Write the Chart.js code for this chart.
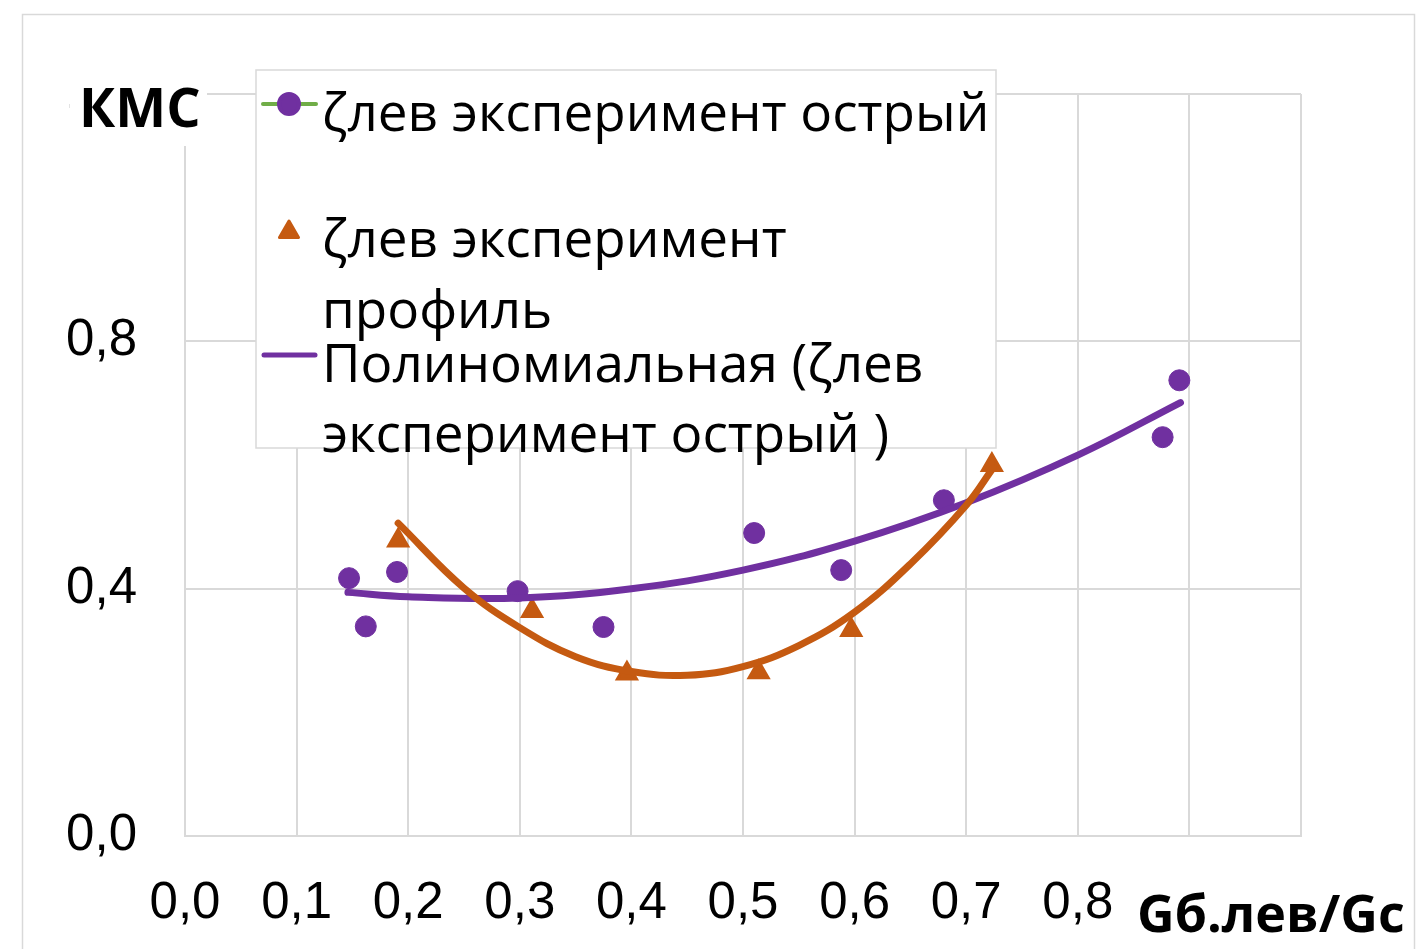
<!DOCTYPE html>
<html>
<head>
<meta charset="utf-8">
<script src="https://cdn.jsdelivr.net/npm/chart.js@4.4.1/dist/chart.umd.min.js"></script>
<style>
  html, body { margin: 0; padding: 0; background: #fff; }
  canvas { display: block; }
</style>
</head>
<body>
<canvas id="kms" width="1422" height="949"></canvas>
<script>
// measured points, sharp inlet
const sharpX = [0.147, 0.162, 0.190, 0.298, 0.375, 0.510, 0.588, 0.680, 0.876, 0.891];
const sharpY = [0.417, 0.339, 0.427, 0.396, 0.338, 0.490, 0.430, 0.543, 0.645, 0.737];
// measured points, profiled inlet
const profX = [0.191, 0.311, 0.396, 0.514, 0.597, 0.723];
const profY = [0.478, 0.364, 0.263, 0.265, 0.333, 0.600];
// trend curves as they appear on the picture
const sharpTrendX = [0.146, 0.2, 0.3, 0.4, 0.5, 0.6, 0.7, 0.8, 0.892];
const sharpTrendY = [0.394, 0.387, 0.385, 0.400, 0.430, 0.477, 0.539, 0.616, 0.701];
const profTrendX = [0.191, 0.25, 0.3, 0.35, 0.4, 0.45, 0.5, 0.55, 0.6, 0.65, 0.7, 0.724];
const profTrendY = [0.506, 0.401, 0.337, 0.290, 0.266, 0.260, 0.274, 0.308, 0.362, 0.440, 0.535, 0.595];

const xTickLabels = ['0,0', '0,1', '0,2', '0,3', '0,4', '0,5', '0,6', '0,7', '0,8', '0,9', '1,0'];
const yTickLabels = ['0,0', '0,4', '0,8', '1,2'];
const seriesNames = ['ζлев эксперимент острый', 'ζлев эксперимент профиль',
  'Полиномиальная (ζлев эксперимент острый )', 'Полиномиальная (ζлев эксперимент профиль)'];
const xTitle = 'Gб.лев/Gc';
const yTitle = 'КМС';

const pts = (xs, ys) => xs.map((x, i) => ({x: x, y: ys[i]}));

const PURPLE = '#7030a0';
const ORANGE = '#c55a11';
const GREEN = '#70ad47';
const GRID = '#d9d9d9';

const decor = {
  id: 'decor',
  beforeDraw(chart) {
    const ctx = chart.ctx;
    ctx.save();
    ctx.fillStyle = '#fff';
    ctx.fillRect(0, 0, chart.width, chart.height);
    ctx.strokeStyle = GRID;
    ctx.lineWidth = 1.5;
    ctx.strokeRect(22.5, 14.5, 1392, 960);
    ctx.restore();
  },
  afterDraw(chart) {
    const ctx = chart.ctx;
    const ds = chart.data.datasets;
    const draw = Chart.helpers.drawPoint;
    ctx.save();

    // legend box
    ctx.fillStyle = '#fff';
    ctx.fillRect(256, 70, 740, 378);
    ctx.strokeStyle = GRID;
    ctx.lineWidth = 1.5;
    ctx.strokeRect(256, 70, 740, 378);

    // item 1: green line + purple dot
    ctx.strokeStyle = ds[0].borderColor;
    ctx.lineWidth = 4;
    ctx.lineCap = 'round';
    ctx.beginPath(); ctx.moveTo(263, 104); ctx.lineTo(316, 104); ctx.stroke();
    ctx.fillStyle = ds[0].pointBackgroundColor;
    ctx.strokeStyle = ds[0].pointBorderColor;
    draw(ctx, {pointStyle: 'circle', radius: 10, borderWidth: 1}, 289, 104);

    // item 2: orange triangle
    ctx.fillStyle = ds[1].pointBackgroundColor;
    ctx.strokeStyle = ds[1].pointBorderColor;
    ctx.lineJoin = 'round';
    ctx.lineWidth = 3;
    draw(ctx, {pointStyle: 'triangle', radius: 11, borderWidth: 3}, 289, 232);

    // item 3: purple trend line
    ctx.strokeStyle = ds[2].borderColor;
    ctx.lineWidth = 5;
    ctx.beginPath(); ctx.moveTo(264, 355); ctx.lineTo(315, 355); ctx.stroke();

    ctx.fillStyle = '#000';
    ctx.font = '53px "Open Sans"';
    ctx.textBaseline = 'alphabetic';
    ctx.textAlign = 'left';
    const lines = [
      [seriesNames[0], 131],
      ['ζлев эксперимент', 257],
      ['профиль', 328],
      ['Полиномиальная (ζлев', 382],
      ['эксперимент острый )', 452]
    ];
    lines.forEach(l => ctx.fillText(l[0], 322, l[1]));

    // axis titles with white backing
    ctx.fillStyle = '#fff';
    ctx.fillRect(70, 64, 137, 82);
    ctx.fillRect(1128, 878, 284, 71);
    ctx.fillStyle = '#000';
    ctx.font = 'bold 54px "Open Sans"';
    ctx.fillText(yTitle, 79, 127);
    ctx.font = 'bold 52px "Open Sans"';
    ctx.fillText(xTitle, 1137, 932);
    ctx.restore();
  }
};

new Chart(document.getElementById('kms'), {
  type: 'scatter',
  data: {
    datasets: [{
      label: seriesNames[0],
      data: pts(sharpX, sharpY),
      showLine: false,
      borderColor: GREEN,
      pointStyle: 'circle',
      pointRadius: 10.5,
      pointBackgroundColor: PURPLE,
      pointBorderColor: PURPLE,
      pointBorderWidth: 1,
      order: 3
    }, {
      label: seriesNames[1],
      data: pts(profX, profY),
      showLine: false,
      borderColor: ORANGE,
      pointStyle: 'triangle',
      pointRadius: 11,
      pointBackgroundColor: ORANGE,
      pointBorderColor: ORANGE,
      pointBorderWidth: 3,
      order: 2
    }, {
      label: seriesNames[2],
      data: pts(sharpTrendX, sharpTrendY),
      showLine: true,
      borderColor: PURPLE,
      borderWidth: 7,
      borderCapStyle: 'round',
      pointRadius: 0,
      tension: 0.4,
      order: 1
    }, {
      label: seriesNames[3],
      data: pts(profTrendX, profTrendY),
      showLine: true,
      borderColor: ORANGE,
      borderWidth: 7,
      borderCapStyle: 'round',
      pointRadius: 0,
      tension: 0.4,
      order: 0
    }]
  },
  options: {
    responsive: false,
    animation: false,
    devicePixelRatio: 1,
    layout: {padding: {left: 0, right: 121, top: 94, bottom: 0}},
    plugins: {legend: {display: false}, tooltip: {enabled: false}},
    scales: {
      x: {
        type: 'linear',
        min: 0,
        max: 1,
        afterFit: s => { s.height = 113; },
        ticks: {
          stepSize: 0.1,
          padding: 37,
          color: '#000',
          font: {family: '"Liberation Sans"', size: 51},
          callback: (v, i) => xTickLabels[i]
        },
        grid: {color: GRID, lineWidth: 2, drawTicks: false},
        border: {color: GRID, width: 2}
      },
      y: {
        min: 0,
        max: 1.2,
        afterFit: s => { s.width = 185; },
        ticks: {
          stepSize: 0.4,
          padding: 48,
          color: '#000',
          font: {family: '"Liberation Sans"', size: 51},
          callback: (v, i) => yTickLabels[i]
        },
        grid: {color: GRID, lineWidth: 2, drawTicks: false},
        border: {color: GRID, width: 2}
      }
    }
  },
  plugins: [decor]
});
</script>
</body>
</html>
